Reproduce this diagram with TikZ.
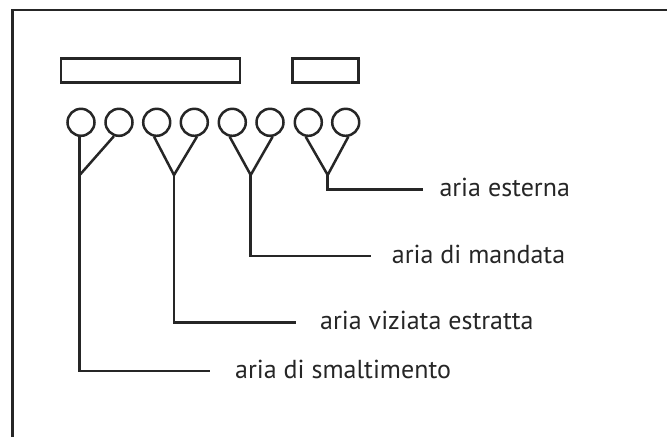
\documentclass[tikz,border=0pt]{standalone}
\usepackage{fontspec}
\setmainfont{PT Sans}
\begin{document}
\begin{tikzpicture}[x=1pt,y=-1pt,
  ln/.style={line width=2.5pt,draw=black!85,line join=miter},
  port/.style={circle,draw=black!85,line width=2.5pt,minimum size=27pt,inner sep=0pt},
  bar/.style={draw=black!85,line width=2.5pt,minimum height=24pt,inner sep=0pt},
  lbl/.style={anchor=base west,font=\fontsize{26}{28}\selectfont,text=black!85,inner sep=0pt}]
\useasboundingbox (0,0) rectangle (667,437);
% frame
\draw[ln] (12.5,437) -- (12.5,10) -- (667,10);
% bars
\node[bar,minimum width=179pt] (bar1) at (150.3,70.5) {};
\node[bar,minimum width=66pt] (bar2) at (325.5,70.5) {};
% ports
\foreach \i/\x in {1/81,2/119,3/156.7,4/194.3,5/232.3,6/270,7/308.3,8/345.7}
  \node[port] (c\i) at (\x,122.3) {};
% junctions
\coordinate (j1) at (79.7,175);
\coordinate (j2) at (174,175);
\coordinate (j3) at (250.7,175);
\coordinate (j4) at (327.7,175);
% corners
\coordinate (k1) at (79.7,371);
\coordinate (k2) at (174,322.3);
\coordinate (k3) at (250.7,256);
\coordinate (k4) at (327.7,189.3);
% line ends
\coordinate (e1) at (210,371);
\coordinate (e2) at (296,322.3);
\coordinate (e3) at (371,256);
\coordinate (e4) at (422.7,189.3);
% labels
\node[lbl] (l1) at (235,378.5) {aria di smaltimento};
\node[lbl] (l2) at (320,329.8) {aria viziata estratta};
\node[lbl] (l3) at (391.7,263.5) {aria di mandata};
\node[lbl] (l4) at (439.3,196.8) {aria esterna};
% connectors
\draw[ln] (c1.south -| j1) -- (j1) -- (k1) -- (e1);
\draw[ln] (c2.-110) -- (j1);
\draw[ln] (c3.-100) -- (j2) -- (c4.-80);
\draw[ln] (j2) -- (k2) -- (e2);
\draw[ln] (c5.-100) -- (j3) -- (c6.-80);
\draw[ln] (j3) -- (k3) -- (e3);
\draw[ln] (c7.-100) -- (j4) -- (c8.-80);
\draw[ln] (j4) -- (k4) -- (e4);
\end{tikzpicture}
\end{document}
